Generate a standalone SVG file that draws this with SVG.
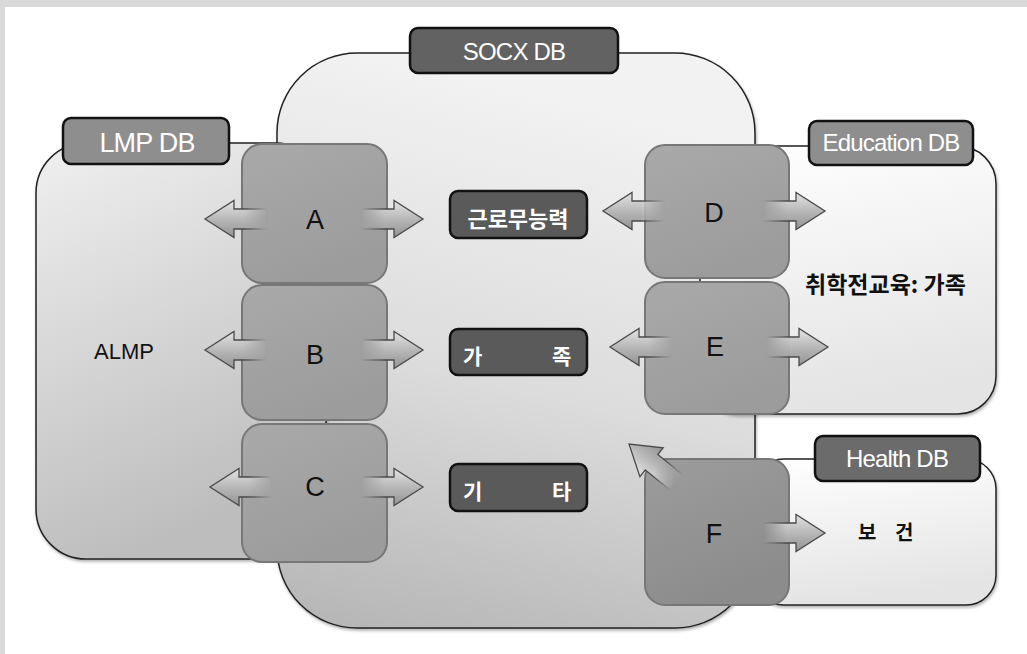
<svg xmlns="http://www.w3.org/2000/svg" xmlns:xlink="http://www.w3.org/1999/xlink" width="1027" height="654" viewBox="0 0 1027 654">
<defs>
<style>
.lbl{stroke:#111;stroke-width:2.5}
.lt{font-family:"Liberation Sans","Noto Sans CJK KR",sans-serif;fill:#fff;text-anchor:middle;letter-spacing:-0.8px}
.kt{font-family:"Noto Sans CJK KR","Liberation Sans",sans-serif;font-weight:bold;fill:#fff;font-size:21px}
.box{stroke:#777;stroke-width:2}
.let{font-family:"Liberation Sans",sans-serif;font-size:27px;fill:#111;text-anchor:middle}
.blk{font-family:"Noto Sans CJK KR","Liberation Sans",sans-serif;fill:#111}
.cont{stroke:#222;stroke-width:1.5}
</style>
<linearGradient id="gSocx" x1="0.2" y1="0" x2="0" y2="1">
<stop offset="0" stop-color="#f2f2f2"/><stop offset="0.5" stop-color="#dcdcdc"/><stop offset="1" stop-color="#b4b4b4"/>
</linearGradient>
<linearGradient id="gLmp" x1="0" y1="0" x2="0.3" y2="1">
<stop offset="0" stop-color="#f0f0f0"/><stop offset="1" stop-color="#bdbdbd"/>
</linearGradient>
<linearGradient id="gEdu" x1="0" y1="0" x2="0.2" y2="1">
<stop offset="0" stop-color="#ffffff"/><stop offset="1" stop-color="#e4e4e4"/>
</linearGradient>
<linearGradient id="gBox" x1="0" y1="0" x2="0.4" y2="1">
<stop offset="0" stop-color="#a9a9a9"/><stop offset="1" stop-color="#9c9c9c"/>
</linearGradient>
<linearGradient id="gBoxF" x1="0" y1="0" x2="0.4" y2="1">
<stop offset="0" stop-color="#9c9c9c"/><stop offset="1" stop-color="#8c8c8c"/>
</linearGradient>
<linearGradient id="gArr" x1="0" y1="0" x2="0" y2="1">
<stop offset="0" stop-color="#e4e4e4"/><stop offset="0.5" stop-color="#b8b8b8"/><stop offset="1" stop-color="#939393"/>
</linearGradient>
<linearGradient id="gFade" gradientUnits="userSpaceOnUse" x1="-62" y1="0" x2="-38" y2="0">
<stop offset="0" stop-color="#000"/><stop offset="1" stop-color="#fff"/>
</linearGradient>
<mask id="fade" maskUnits="userSpaceOnUse" x="-70" y="-30" width="80" height="60">
<rect x="-70" y="-30" width="80" height="60" fill="url(#gFade)"/>
</mask>
<filter id="sh" x="-10%" y="-10%" width="130%" height="130%">
<feDropShadow dx="1" dy="2" stdDeviation="1.5" flood-color="#000" flood-opacity="0.3"/>
</filter>
<g id="arrow">
<path d="M-62,-10 L-29,-10 L-29,-18.5 L0,0 L-29,18.5 L-29,10 L-62,10 Z" fill="url(#gArr)" stroke="#4a4a4a" stroke-width="1.3" stroke-linejoin="miter" mask="url(#fade)"/>
</g>
</defs>

<rect x="0" y="0" width="1027" height="654" fill="#d9d9d9"/>
<rect x="5" y="7" width="1022" height="647" fill="#ffffff"/>

<g id="socx-db">
<rect x="277" y="53" width="478" height="575" rx="80" ry="80" fill="url(#gSocx)" class="cont" filter="url(#sh)"/>
</g>
<g id="lmp-db">
<rect x="36" y="143" width="290" height="416" rx="50" ry="50" fill="url(#gLmp)" class="cont" filter="url(#sh)"/>
<text x="94" y="359" class="blk" font-size="22" style="font-family:'Liberation Sans',sans-serif">ALMP</text>
</g>
<g id="education-db">
<rect x="700" y="146" width="296" height="268" rx="38" ry="38" fill="url(#gEdu)" class="cont" filter="url(#sh)"/>
<text x="805" y="293" class="blk" font-size="23" font-weight="bold">취학전교육: 가족</text>
</g>
<g id="health-db">
<rect x="754" y="459" width="242" height="146" rx="30" ry="30" fill="url(#gEdu)" class="cont" filter="url(#sh)"/>
<text class="blk" font-size="20" font-weight="bold" y="540"><tspan x="858">보</tspan><tspan x="895">건</tspan></text>
</g>

<g id="node-a">
<rect x="242" y="144" width="145" height="139" rx="20" fill="url(#gBox)" class="box"/>
<text x="315" y="229" class="let">A</text>
</g>
<g id="node-b">
<rect x="242" y="285" width="145" height="135" rx="20" fill="url(#gBox)" class="box"/>
<text x="315" y="364" class="let">B</text>
</g>
<g id="node-c">
<rect x="242" y="424" width="145" height="138" rx="20" fill="url(#gBox)" class="box"/>
<text x="315" y="496" class="let">C</text>
</g>
<g id="node-d">
<rect x="645" y="145" width="144" height="133" rx="20" fill="url(#gBox)" class="box"/>
<text x="714" y="222" class="let">D</text>
</g>
<g id="node-e">
<rect x="645" y="282" width="144" height="132" rx="20" fill="url(#gBox)" class="box"/>
<text x="715" y="356" class="let">E</text>
</g>
<g id="node-f">
<rect x="645" y="459" width="144" height="146" rx="20" fill="url(#gBoxF)" class="box"/>
<text x="714" y="543" class="let">F</text>
</g>

<g id="connectors">
<use xlink:href="#arrow" transform="translate(205,219) scale(-1,1)"/>
<use xlink:href="#arrow" transform="translate(423,219)"/>
<use xlink:href="#arrow" transform="translate(205,350) scale(-1,1)"/>
<use xlink:href="#arrow" transform="translate(423,350)"/>
<use xlink:href="#arrow" transform="translate(210,487) scale(-1,1)"/>
<use xlink:href="#arrow" transform="translate(423,487)"/>
<use xlink:href="#arrow" transform="translate(603,211) scale(-1,1)"/>
<use xlink:href="#arrow" transform="translate(825,211)"/>
<use xlink:href="#arrow" transform="translate(610,347) scale(-1,1)"/>
<use xlink:href="#arrow" transform="translate(828,347)"/>
<use xlink:href="#arrow" transform="translate(825,533)"/>
<use xlink:href="#arrow" transform="translate(629,444) rotate(-141)"/>
</g>

<g id="label-socx">
<rect x="410" y="28" width="208" height="45" rx="8" fill="#626262" class="lbl"/>
<text x="514" y="60" class="lt" font-size="24">SOCX DB</text>
</g>
<g id="label-lmp">
<rect x="63" y="118" width="166" height="46" rx="8" fill="#8e8e8e" class="lbl"/>
<text x="147" y="152" class="lt" font-size="27">LMP DB</text>
</g>
<g id="label-edu">
<rect x="809" y="121" width="164" height="44" rx="8" fill="#8e8e8e" class="lbl"/>
<text x="891" y="151" class="lt" font-size="24">Education DB</text>
</g>
<g id="label-health">
<rect x="815" y="436" width="165" height="45" rx="8" fill="#6b6b6b" class="lbl"/>
<text x="897" y="467" class="lt" font-size="24">Health DB</text>
</g>
<g id="label-work">
<rect x="450" y="191" width="137" height="47" rx="8" fill="#5a5a5a" class="lbl"/>
<text x="518" y="227" class="kt" font-size="22" text-anchor="middle" style="font-size:22px">근로무능력</text>
</g>
<g id="label-family">
<rect x="450" y="329" width="137" height="46" rx="8" fill="#5a5a5a" class="lbl"/>
<text y="364" class="kt"><tspan x="463">가</tspan><tspan x="552">족</tspan></text>
</g>
<g id="label-other">
<rect x="450" y="464" width="137" height="47" rx="8" fill="#5a5a5a" class="lbl"/>
<text y="499" class="kt"><tspan x="463">기</tspan><tspan x="552">타</tspan></text>
</g>
</svg>
